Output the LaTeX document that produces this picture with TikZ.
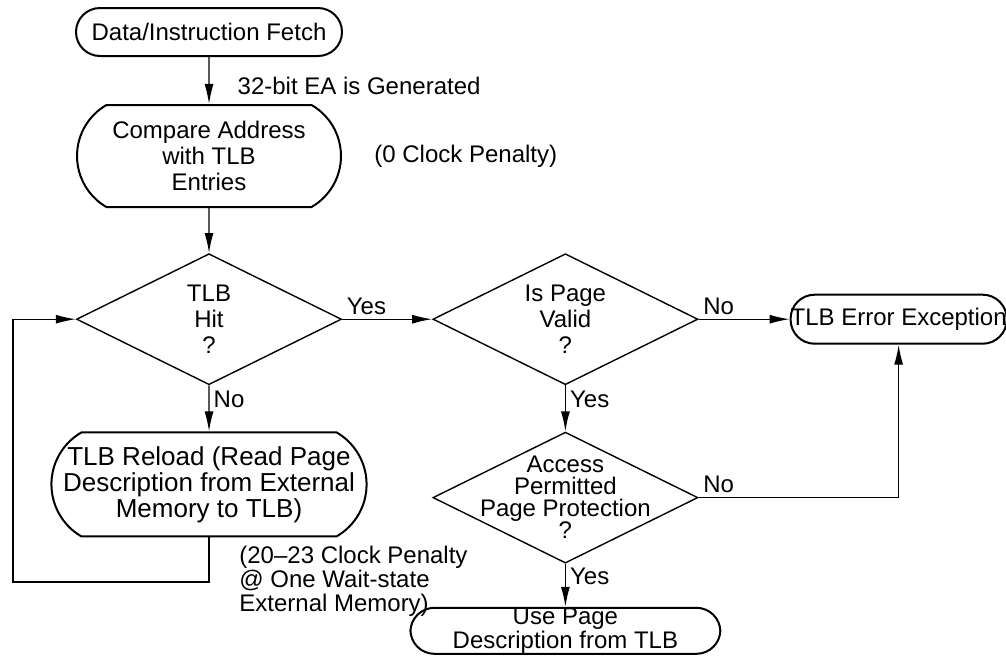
\documentclass[tikz,border=0pt]{standalone}
\usepackage{fontspec}
\setmainfont{Liberation Sans}
\usetikzlibrary{positioning,shapes.geometric,shapes.misc,arrows.meta}

\tikzset{
	term/.style={draw, line width=1pt, rounded corners=12pt, minimum width=133pt, minimum height=24pt, inner sep=0pt, align=center},
	bigterm/.style={draw, line width=1pt, rounded rectangle, rounded rectangle arc length=120, minimum width=114pt, minimum height=51pt, inner ysep=0pt, inner xsep=-9pt, align=center},
	decision/.style={draw, diamond, line width=0.7pt, aspect=2, inner sep=-10pt, minimum width=132.5pt, minimum height=65.5pt, align=center},
	flow/.style={-{Latex[length=10pt,width=4.5pt]}, line width=0.7pt},
	lbl/.style={inner sep=2pt},
}

\begin{document}
\begin{tikzpicture}[x=0.5pt, y=-0.5pt, font=\fontsize{12pt}{13pt}\selectfont]
			\useasboundingbox (0,0) rectangle (1006,660);

			% Define nodes
			\node[term] (fetch) at (209,32) {Data/Instruction Fetch};
			\node[bigterm, below=23.5pt of fetch] (cmp) {Compare Address\\with TLB\\Entries};
			\node[decision, below=22.5pt of cmp] (hit) {TLB\\Hit\\?};
			\node[bigterm, below=23pt of hit, minimum width=0pt, inner xsep=-1pt, minimum height=52pt, font=\fontsize{13pt}{13pt}\selectfont] (reload) {TLB Reload (Read Page\\Description from External\\Memory to TLB)};

			\node[decision, right=45pt of hit] (valid) {Is Page\\Valid\\?};
			\node[term, right=45.5pt of valid, minimum width=108pt, minimum height=24.5pt] (error) {TLB Error Exception};
			\node[decision, below=23pt of valid, font=\fontsize{12pt}{11pt}\selectfont] (access) {Access\\Permitted\\Page Protection\\?};
			\node[term, below=21.5pt of access, minimum width=155pt, minimum height=23pt, font=\fontsize{12pt}{11pt}\selectfont] (use) {Use Page\\Description from TLB};

			\coordinate (back) at (13,582);

			% Penalties
			\node[lbl, right=14pt of cmp] (zero) {(0 Clock Penalty)};
			\node[lbl, below right=2pt and 13pt of reload.south, align=left, font=\fontsize{12pt}{12pt}\selectfont] (wait) {(20--23 Clock Penalty\\@ One Wait-state\\External Memory)};

			% Connect the nodes
			\draw[flow] (fetch) -- node[lbl, right=12pt, pos=0.62] {32-bit EA is Generated} (cmp);
			\draw[flow] (cmp) -- (hit);
			\draw[flow] (hit) -- node[lbl, pos=0, above right] {Yes} (valid);
			\draw[flow] (hit) -- node[lbl, pos=0.3, right] {No} (reload);
			\draw[flow] (reload.south) |- (back) |- (hit.west);
			\draw[flow] (valid) -- node[lbl, pos=0, above right] {No} (error);
			\draw[flow] (valid) -- node[lbl, pos=0.3, right] {Yes} (access);
			\draw[flow] (access.east) -| node[lbl, pos=0, above right] {No} (error.south);
			\draw[flow] (access) -- node[lbl, pos=0.3, right] {Yes} (use);

\end{tikzpicture}
\end{document}
